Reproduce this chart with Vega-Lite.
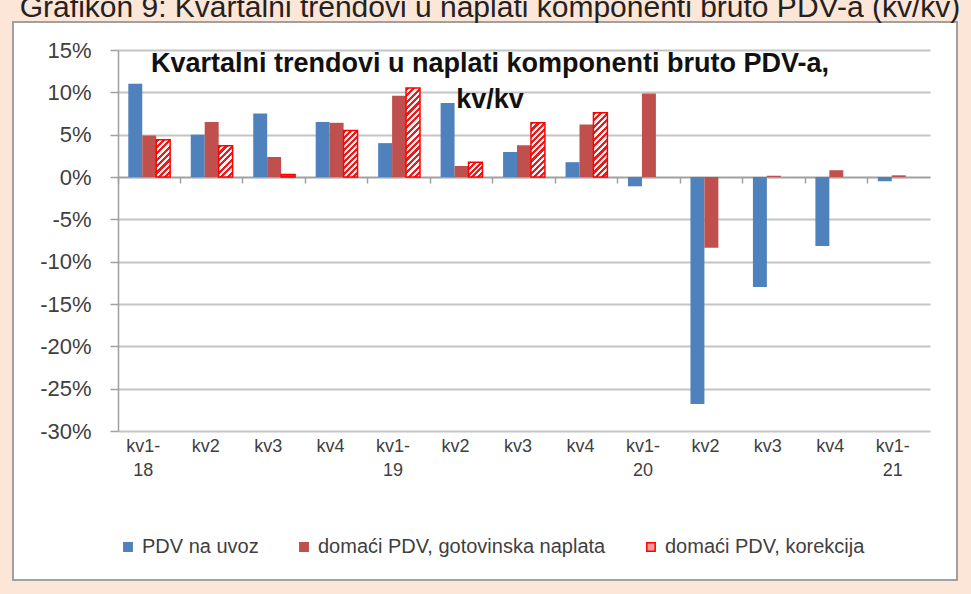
{
  "$schema": "https://vega.github.io/schema/vega-lite/v6.json",
  "width": 944,
  "height": 558,
  "autosize": {"type": "none"},
  "padding": {"left": 13, "top": 22, "right": 14, "bottom": 14},
  "background": "#fce6d8",
  "config": {
    "view": {"fill": "white", "stroke": "#a0a0a0", "strokeWidth": 2},
    "font": "Liberation Sans"
  },
  "title": {
    "text": "Grafikon 9: Kvartalni trendovi u naplati komponenti bruto PDV-a (kv/kv)",
    "subtitle": ["Kvartalni trendovi u naplati komponenti bruto PDV-a,", "kv/kv"],
    "anchor": "middle",
    "frame": "group",
    "dx": 5,
    "offset": -91,
    "font": "Liberation Sans",
    "fontSize": 30,
    "fontWeight": "normal",
    "color": "#222222",
    "subtitleFont": "Liberation Sans",
    "subtitleFontSize": 27,
    "subtitleFontWeight": "bold",
    "subtitleColor": "#111111",
    "subtitleLineHeight": 36,
    "subtitlePadding": 28
  },
  "data": {
    "values": [
      {"q": "kv1-18", "s": "PDV na uvoz", "v": 11.0},
      {"q": "kv2-18", "s": "PDV na uvoz", "v": 5.0},
      {"q": "kv3-18", "s": "PDV na uvoz", "v": 7.5},
      {"q": "kv4-18", "s": "PDV na uvoz", "v": 6.5},
      {"q": "kv1-19", "s": "PDV na uvoz", "v": 4.0},
      {"q": "kv2-19", "s": "PDV na uvoz", "v": 8.75},
      {"q": "kv3-19", "s": "PDV na uvoz", "v": 2.95},
      {"q": "kv4-19", "s": "PDV na uvoz", "v": 1.75},
      {"q": "kv1-20", "s": "PDV na uvoz", "v": -1.1},
      {"q": "kv2-20", "s": "PDV na uvoz", "v": -26.8},
      {"q": "kv3-20", "s": "PDV na uvoz", "v": -13.0},
      {"q": "kv4-20", "s": "PDV na uvoz", "v": -8.15},
      {"q": "kv1-21", "s": "PDV na uvoz", "v": -0.5},
      {"q": "kv1-18", "s": "domaći PDV, gotovinska naplata", "v": 4.9},
      {"q": "kv2-18", "s": "domaći PDV, gotovinska naplata", "v": 6.5},
      {"q": "kv3-18", "s": "domaći PDV, gotovinska naplata", "v": 2.35},
      {"q": "kv4-18", "s": "domaći PDV, gotovinska naplata", "v": 6.4},
      {"q": "kv1-19", "s": "domaći PDV, gotovinska naplata", "v": 9.6},
      {"q": "kv2-19", "s": "domaći PDV, gotovinska naplata", "v": 1.3},
      {"q": "kv3-19", "s": "domaći PDV, gotovinska naplata", "v": 3.75},
      {"q": "kv4-19", "s": "domaći PDV, gotovinska naplata", "v": 6.2},
      {"q": "kv1-20", "s": "domaći PDV, gotovinska naplata", "v": 9.85},
      {"q": "kv2-20", "s": "domaći PDV, gotovinska naplata", "v": -8.35},
      {"q": "kv3-20", "s": "domaći PDV, gotovinska naplata", "v": 0.15},
      {"q": "kv4-20", "s": "domaći PDV, gotovinska naplata", "v": 0.8},
      {"q": "kv1-21", "s": "domaći PDV, gotovinska naplata", "v": 0.2},
      {"q": "kv1-18", "s": "domaći PDV, korekcija", "v": 4.4},
      {"q": "kv2-18", "s": "domaći PDV, korekcija", "v": 3.7},
      {"q": "kv3-18", "s": "domaći PDV, korekcija", "v": 0.3},
      {"q": "kv4-18", "s": "domaći PDV, korekcija", "v": 5.5},
      {"q": "kv1-19", "s": "domaći PDV, korekcija", "v": 10.5},
      {"q": "kv2-19", "s": "domaći PDV, korekcija", "v": 1.75},
      {"q": "kv3-19", "s": "domaći PDV, korekcija", "v": 6.4},
      {"q": "kv4-19", "s": "domaći PDV, korekcija", "v": 7.6}
    ]
  },
  "encoding": {
    "x": {
      "field": "q",
      "type": "nominal",
      "sort": null,
      "scale": {
        "domain": ["kv1-18","kv2-18","kv3-18","kv4-18","kv1-19","kv2-19","kv3-19","kv4-19","kv1-20","kv2-20","kv3-20","kv4-20","kv1-21"],
        "range": [105, 917],
        "paddingInner": 0.33,
        "paddingOuter": 0.165
      },
      "axis": {
        "title": null,
        "orient": "bottom",
        "offset": -403,
        "grid": false,
        "bandPosition": -0.246,
        "domainColor": "#a0a0a0",
        "domainWidth": 1.5,
        "tickColor": "#a0a0a0",
        "tickWidth": 1.5,
        "tickSize": 6,
        "labelAngle": 0,
        "labelFont": "Liberation Sans",
        "labelFontSize": 18,
        "labelColor": "#404040",
        "labelLineHeight": 24,
        "labelBaseline": "top",
        "labelPadding": 254,
        "labelOffset": -6,
        "labelExpr": "indexof(datum.value, 'kv1') == 0 ? [substring(datum.value, 0, 4), substring(datum.value, 4)] : substring(datum.value, 0, 3)"
      }
    },
    "xOffset": {
      "field": "s",
      "type": "nominal",
      "scale": {
        "domain": ["PDV na uvoz", "domaći PDV, gotovinska naplata", "domaći PDV, korekcija"],
        "paddingInner": 0,
        "paddingOuter": 0
      }
    },
    "y": {
      "field": "v",
      "type": "quantitative",
      "stack": null,
      "scale": {"domain": [-30, 15], "range": [409, 28], "nice": false, "zero": false},
      "axis": {
        "title": null,
        "values": [-30, -25, -20, -15, -10, -5, 0, 5, 10, 15],
        "labelExpr": "datum.value + '%'",
        "offset": -105,
        "grid": true,
        "gridColor": "#c4c4c4",
        "gridWidth": 2,
        "domainColor": "#a0a0a0",
        "domainWidth": 1.5,
        "tickColor": "#a0a0a0",
        "tickWidth": 1.5,
        "tickSize": 8,
        "labelFont": "Liberation Sans",
        "labelFontSize": 22,
        "labelColor": "#404040",
        "labelPadding": 19
      }
    }
  },
  "layer": [
    {
      "transform": [{"filter": "datum.s !== 'domaći PDV, korekcija'"}],
      "mark": {"type": "bar"},
      "encoding": {
        "fill": {
          "field": "s",
          "type": "nominal",
          "scale": {
            "domain": ["PDV na uvoz", "domaći PDV, gotovinska naplata", "domaći PDV, korekcija"],
            "range": ["#4F81BD", "#C0504D", "#f59a9a"]
          },
          "legend": {
            "title": null,
            "orient": "none",
            "legendX": 105,
            "legendY": 515,
            "direction": "horizontal",
            "symbolType": "square",
            "symbolSize": 70,
            "symbolStrokeWidth": 1.5,
            "labelFont": "Liberation Sans",
            "labelFontSize": 20,
            "labelColor": "#404040",
            "labelOffset": 4,
            "labelLimit": 500,
            "columnPadding": 35
          }
        }
      }
    },
    {
      "transform": [{"filter": "datum.s === 'domaći PDV, korekcija'"}],
      "mark": {"type": "bar", "strokeWidth": 1.5},
      "encoding": {
        "fill": {
          "condition": [
            {"test": "datum.q === 'kv1-18'", "value": {"gradient": "linear", "x1": 0, "y1": 0, "x2": 0.4514, "y2": 1.2054, "stops": [
              {"offset":0,"color":"#e81c1c"},{"offset":0.0625,"color":"#e81c1c"},{"offset":0.0625,"color":"#fff4f4"},{"offset":0.125,"color":"#fff4f4"},
              {"offset":0.125,"color":"#e81c1c"},{"offset":0.1875,"color":"#e81c1c"},{"offset":0.1875,"color":"#fff4f4"},{"offset":0.25,"color":"#fff4f4"},
              {"offset":0.25,"color":"#e81c1c"},{"offset":0.3125,"color":"#e81c1c"},{"offset":0.3125,"color":"#fff4f4"},{"offset":0.375,"color":"#fff4f4"},
              {"offset":0.375,"color":"#e81c1c"},{"offset":0.4375,"color":"#e81c1c"},{"offset":0.4375,"color":"#fff4f4"},{"offset":0.5,"color":"#fff4f4"},
              {"offset":0.5,"color":"#e81c1c"},{"offset":0.5625,"color":"#e81c1c"},{"offset":0.5625,"color":"#fff4f4"},{"offset":0.625,"color":"#fff4f4"},
              {"offset":0.625,"color":"#e81c1c"},{"offset":0.6875,"color":"#e81c1c"},{"offset":0.6875,"color":"#fff4f4"},{"offset":0.75,"color":"#fff4f4"},
              {"offset":0.75,"color":"#e81c1c"},{"offset":0.8125,"color":"#e81c1c"},{"offset":0.8125,"color":"#fff4f4"},{"offset":0.875,"color":"#fff4f4"},
              {"offset":0.875,"color":"#e81c1c"},{"offset":0.9375,"color":"#e81c1c"},{"offset":0.9375,"color":"#fff4f4"},{"offset":1,"color":"#fff4f4"}
            ]}},
            {"test": "datum.q === 'kv2-18'", "value": {"gradient": "linear", "x1": 0, "y1": 0, "x2": 0.537, "y2": 1.2061, "stops": [
              {"offset":0,"color":"#e81c1c"},{"offset":0.0714,"color":"#e81c1c"},{"offset":0.0714,"color":"#fff4f4"},{"offset":0.1429,"color":"#fff4f4"},
              {"offset":0.1429,"color":"#e81c1c"},{"offset":0.2143,"color":"#e81c1c"},{"offset":0.2143,"color":"#fff4f4"},{"offset":0.2857,"color":"#fff4f4"},
              {"offset":0.2857,"color":"#e81c1c"},{"offset":0.3571,"color":"#e81c1c"},{"offset":0.3571,"color":"#fff4f4"},{"offset":0.4286,"color":"#fff4f4"},
              {"offset":0.4286,"color":"#e81c1c"},{"offset":0.5,"color":"#e81c1c"},{"offset":0.5,"color":"#fff4f4"},{"offset":0.5714,"color":"#fff4f4"},
              {"offset":0.5714,"color":"#e81c1c"},{"offset":0.6429,"color":"#e81c1c"},{"offset":0.6429,"color":"#fff4f4"},{"offset":0.7143,"color":"#fff4f4"},
              {"offset":0.7143,"color":"#e81c1c"},{"offset":0.7857,"color":"#e81c1c"},{"offset":0.7857,"color":"#fff4f4"},{"offset":0.8571,"color":"#fff4f4"},
              {"offset":0.8571,"color":"#e81c1c"},{"offset":0.9286,"color":"#e81c1c"},{"offset":0.9286,"color":"#fff4f4"},{"offset":1,"color":"#fff4f4"}
            ]}},
            {"test": "datum.q === 'kv4-18'", "value": {"gradient": "linear", "x1": 0, "y1": 0, "x2": 0.3573, "y2": 1.1927, "stops": [
              {"offset":0,"color":"#e81c1c"},{"offset":0.05,"color":"#e81c1c"},{"offset":0.05,"color":"#fff4f4"},{"offset":0.1,"color":"#fff4f4"},
              {"offset":0.1,"color":"#e81c1c"},{"offset":0.15,"color":"#e81c1c"},{"offset":0.15,"color":"#fff4f4"},{"offset":0.2,"color":"#fff4f4"},
              {"offset":0.2,"color":"#e81c1c"},{"offset":0.25,"color":"#e81c1c"},{"offset":0.25,"color":"#fff4f4"},{"offset":0.3,"color":"#fff4f4"},
              {"offset":0.3,"color":"#e81c1c"},{"offset":0.35,"color":"#e81c1c"},{"offset":0.35,"color":"#fff4f4"},{"offset":0.4,"color":"#fff4f4"},
              {"offset":0.4,"color":"#e81c1c"},{"offset":0.45,"color":"#e81c1c"},{"offset":0.45,"color":"#fff4f4"},{"offset":0.5,"color":"#fff4f4"},
              {"offset":0.5,"color":"#e81c1c"},{"offset":0.55,"color":"#e81c1c"},{"offset":0.55,"color":"#fff4f4"},{"offset":0.6,"color":"#fff4f4"},
              {"offset":0.6,"color":"#e81c1c"},{"offset":0.65,"color":"#e81c1c"},{"offset":0.65,"color":"#fff4f4"},{"offset":0.7,"color":"#fff4f4"},
              {"offset":0.7,"color":"#e81c1c"},{"offset":0.75,"color":"#e81c1c"},{"offset":0.75,"color":"#fff4f4"},{"offset":0.8,"color":"#fff4f4"},
              {"offset":0.8,"color":"#e81c1c"},{"offset":0.85,"color":"#e81c1c"},{"offset":0.85,"color":"#fff4f4"},{"offset":0.9,"color":"#fff4f4"},
              {"offset":0.9,"color":"#e81c1c"},{"offset":0.95,"color":"#e81c1c"},{"offset":0.95,"color":"#fff4f4"},{"offset":1,"color":"#fff4f4"}
            ]}},
            {"test": "datum.q === 'kv1-19'", "value": {"gradient": "linear", "x1": 0, "y1": 0, "x2": 0.1772, "y2": 1.1291, "stops": [
              {"offset":0,"color":"#e81c1c"},{"offset":0.03125,"color":"#e81c1c"},{"offset":0.03125,"color":"#fff4f4"},{"offset":0.0625,"color":"#fff4f4"},
              {"offset":0.0625,"color":"#e81c1c"},{"offset":0.09375,"color":"#e81c1c"},{"offset":0.09375,"color":"#fff4f4"},{"offset":0.125,"color":"#fff4f4"},
              {"offset":0.125,"color":"#e81c1c"},{"offset":0.15625,"color":"#e81c1c"},{"offset":0.15625,"color":"#fff4f4"},{"offset":0.1875,"color":"#fff4f4"},
              {"offset":0.1875,"color":"#e81c1c"},{"offset":0.21875,"color":"#e81c1c"},{"offset":0.21875,"color":"#fff4f4"},{"offset":0.25,"color":"#fff4f4"},
              {"offset":0.25,"color":"#e81c1c"},{"offset":0.28125,"color":"#e81c1c"},{"offset":0.28125,"color":"#fff4f4"},{"offset":0.3125,"color":"#fff4f4"},
              {"offset":0.3125,"color":"#e81c1c"},{"offset":0.34375,"color":"#e81c1c"},{"offset":0.34375,"color":"#fff4f4"},{"offset":0.375,"color":"#fff4f4"},
              {"offset":0.375,"color":"#e81c1c"},{"offset":0.40625,"color":"#e81c1c"},{"offset":0.40625,"color":"#fff4f4"},{"offset":0.4375,"color":"#fff4f4"},
              {"offset":0.4375,"color":"#e81c1c"},{"offset":0.46875,"color":"#e81c1c"},{"offset":0.46875,"color":"#fff4f4"},{"offset":0.5,"color":"#fff4f4"},
              {"offset":0.5,"color":"#e81c1c"},{"offset":0.53125,"color":"#e81c1c"},{"offset":0.53125,"color":"#fff4f4"},{"offset":0.5625,"color":"#fff4f4"},
              {"offset":0.5625,"color":"#e81c1c"},{"offset":0.59375,"color":"#e81c1c"},{"offset":0.59375,"color":"#fff4f4"},{"offset":0.625,"color":"#fff4f4"},
              {"offset":0.625,"color":"#e81c1c"},{"offset":0.65625,"color":"#e81c1c"},{"offset":0.65625,"color":"#fff4f4"},{"offset":0.6875,"color":"#fff4f4"},
              {"offset":0.6875,"color":"#e81c1c"},{"offset":0.71875,"color":"#e81c1c"},{"offset":0.71875,"color":"#fff4f4"},{"offset":0.75,"color":"#fff4f4"},
              {"offset":0.75,"color":"#e81c1c"},{"offset":0.78125,"color":"#e81c1c"},{"offset":0.78125,"color":"#fff4f4"},{"offset":0.8125,"color":"#fff4f4"},
              {"offset":0.8125,"color":"#e81c1c"},{"offset":0.84375,"color":"#e81c1c"},{"offset":0.84375,"color":"#fff4f4"},{"offset":0.875,"color":"#fff4f4"},
              {"offset":0.875,"color":"#e81c1c"},{"offset":0.90625,"color":"#e81c1c"},{"offset":0.90625,"color":"#fff4f4"},{"offset":0.9375,"color":"#fff4f4"},
              {"offset":0.9375,"color":"#e81c1c"},{"offset":0.96875,"color":"#e81c1c"},{"offset":0.96875,"color":"#fff4f4"},{"offset":1,"color":"#fff4f4"}
            ]}},
            {"test": "datum.q === 'kv2-19'", "value": {"gradient": "linear", "x1": 0, "y1": 0, "x2": 0.969, "y2": 1.0294, "stops": [
              {"offset":0,"color":"#e81c1c"},{"offset":0.1,"color":"#e81c1c"},{"offset":0.1,"color":"#fff4f4"},{"offset":0.2,"color":"#fff4f4"},
              {"offset":0.2,"color":"#e81c1c"},{"offset":0.3,"color":"#e81c1c"},{"offset":0.3,"color":"#fff4f4"},{"offset":0.4,"color":"#fff4f4"},
              {"offset":0.4,"color":"#e81c1c"},{"offset":0.5,"color":"#e81c1c"},{"offset":0.5,"color":"#fff4f4"},{"offset":0.6,"color":"#fff4f4"},
              {"offset":0.6,"color":"#e81c1c"},{"offset":0.7,"color":"#e81c1c"},{"offset":0.7,"color":"#fff4f4"},{"offset":0.8,"color":"#fff4f4"},
              {"offset":0.8,"color":"#e81c1c"},{"offset":0.9,"color":"#e81c1c"},{"offset":0.9,"color":"#fff4f4"},{"offset":1,"color":"#fff4f4"}
            ]}},
            {"test": "datum.q === 'kv3-19'", "value": {"gradient": "linear", "x1": 0, "y1": 0, "x2": 0.3036, "y2": 1.1794, "stops": [
              {"offset":0,"color":"#e81c1c"},{"offset":0.0455,"color":"#e81c1c"},{"offset":0.0455,"color":"#fff4f4"},{"offset":0.0909,"color":"#fff4f4"},
              {"offset":0.0909,"color":"#e81c1c"},{"offset":0.1364,"color":"#e81c1c"},{"offset":0.1364,"color":"#fff4f4"},{"offset":0.1818,"color":"#fff4f4"},
              {"offset":0.1818,"color":"#e81c1c"},{"offset":0.2273,"color":"#e81c1c"},{"offset":0.2273,"color":"#fff4f4"},{"offset":0.2727,"color":"#fff4f4"},
              {"offset":0.2727,"color":"#e81c1c"},{"offset":0.3182,"color":"#e81c1c"},{"offset":0.3182,"color":"#fff4f4"},{"offset":0.3636,"color":"#fff4f4"},
              {"offset":0.3636,"color":"#e81c1c"},{"offset":0.4091,"color":"#e81c1c"},{"offset":0.4091,"color":"#fff4f4"},{"offset":0.4545,"color":"#fff4f4"},
              {"offset":0.4545,"color":"#e81c1c"},{"offset":0.5,"color":"#e81c1c"},{"offset":0.5,"color":"#fff4f4"},{"offset":0.5455,"color":"#fff4f4"},
              {"offset":0.5455,"color":"#e81c1c"},{"offset":0.5909,"color":"#e81c1c"},{"offset":0.5909,"color":"#fff4f4"},{"offset":0.6364,"color":"#fff4f4"},
              {"offset":0.6364,"color":"#e81c1c"},{"offset":0.6818,"color":"#e81c1c"},{"offset":0.6818,"color":"#fff4f4"},{"offset":0.7273,"color":"#fff4f4"},
              {"offset":0.7273,"color":"#e81c1c"},{"offset":0.7727,"color":"#e81c1c"},{"offset":0.7727,"color":"#fff4f4"},{"offset":0.8182,"color":"#fff4f4"},
              {"offset":0.8182,"color":"#e81c1c"},{"offset":0.8636,"color":"#e81c1c"},{"offset":0.8636,"color":"#fff4f4"},{"offset":0.9091,"color":"#fff4f4"},
              {"offset":0.9091,"color":"#e81c1c"},{"offset":0.9545,"color":"#e81c1c"},{"offset":0.9545,"color":"#fff4f4"},{"offset":1,"color":"#fff4f4"}
            ]}},
            {"test": "datum.q === 'kv4-19'", "value": {"gradient": "linear", "x1": 0, "y1": 0, "x2": 0.2519, "y2": 1.1622, "stops": [
              {"offset":0,"color":"#e81c1c"},{"offset":0.0417,"color":"#e81c1c"},{"offset":0.0417,"color":"#fff4f4"},{"offset":0.0833,"color":"#fff4f4"},
              {"offset":0.0833,"color":"#e81c1c"},{"offset":0.125,"color":"#e81c1c"},{"offset":0.125,"color":"#fff4f4"},{"offset":0.1667,"color":"#fff4f4"},
              {"offset":0.1667,"color":"#e81c1c"},{"offset":0.2083,"color":"#e81c1c"},{"offset":0.2083,"color":"#fff4f4"},{"offset":0.25,"color":"#fff4f4"},
              {"offset":0.25,"color":"#e81c1c"},{"offset":0.2917,"color":"#e81c1c"},{"offset":0.2917,"color":"#fff4f4"},{"offset":0.3333,"color":"#fff4f4"},
              {"offset":0.3333,"color":"#e81c1c"},{"offset":0.375,"color":"#e81c1c"},{"offset":0.375,"color":"#fff4f4"},{"offset":0.4167,"color":"#fff4f4"},
              {"offset":0.4167,"color":"#e81c1c"},{"offset":0.4583,"color":"#e81c1c"},{"offset":0.4583,"color":"#fff4f4"},{"offset":0.5,"color":"#fff4f4"},
              {"offset":0.5,"color":"#e81c1c"},{"offset":0.5417,"color":"#e81c1c"},{"offset":0.5417,"color":"#fff4f4"},{"offset":0.5833,"color":"#fff4f4"},
              {"offset":0.5833,"color":"#e81c1c"},{"offset":0.625,"color":"#e81c1c"},{"offset":0.625,"color":"#fff4f4"},{"offset":0.6667,"color":"#fff4f4"},
              {"offset":0.6667,"color":"#e81c1c"},{"offset":0.7083,"color":"#e81c1c"},{"offset":0.7083,"color":"#fff4f4"},{"offset":0.75,"color":"#fff4f4"},
              {"offset":0.75,"color":"#e81c1c"},{"offset":0.7917,"color":"#e81c1c"},{"offset":0.7917,"color":"#fff4f4"},{"offset":0.8333,"color":"#fff4f4"},
              {"offset":0.8333,"color":"#e81c1c"},{"offset":0.875,"color":"#e81c1c"},{"offset":0.875,"color":"#fff4f4"},{"offset":0.9167,"color":"#fff4f4"},
              {"offset":0.9167,"color":"#e81c1c"},{"offset":0.9583,"color":"#e81c1c"},{"offset":0.9583,"color":"#fff4f4"},{"offset":1,"color":"#fff4f4"}
            ]}}
          ],
          "value": "#ee3030"
        },
        "stroke": {
          "field": "s",
          "type": "nominal",
          "scale": {
            "domain": ["PDV na uvoz", "domaći PDV, gotovinska naplata", "domaći PDV, korekcija"],
            "range": ["#4F81BD", "#C0504D", "#ff0000"]
          },
          "legend": {
            "title": null,
            "orient": "none",
            "legendX": 105,
            "legendY": 515,
            "direction": "horizontal",
            "symbolType": "square",
            "symbolSize": 70,
            "symbolStrokeWidth": 1.5,
            "labelFont": "Liberation Sans",
            "labelFontSize": 20,
            "labelColor": "#404040",
            "labelOffset": 4,
            "labelLimit": 500,
            "columnPadding": 35
          }
        }
      }
    }
  ]
}
